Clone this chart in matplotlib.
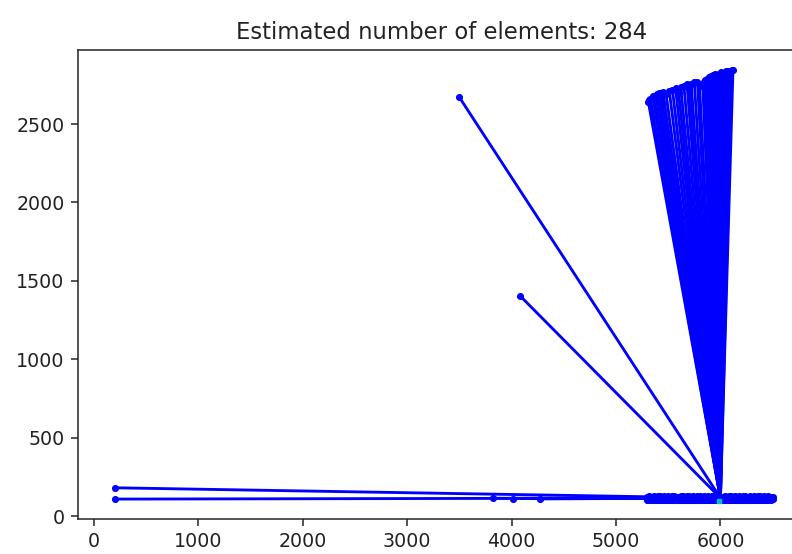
import numpy as np
import matplotlib
matplotlib.use("Agg")
import matplotlib.pyplot as plt

# centre point every segment starts from
cx, cy = 6000, 115

# isolated end points
far_x = [200, 200, 3500, 4080, 3820, 4010, 4270]
far_y = [180, 108, 2670, 1405, 113, 111, 109]

# end points of the tall fan
fan_x = [5310, 5320, 5330, 5350, 5370, 5390, 5410, 5430, 5450, 5480, 5510, 5540, 5570,
         5600, 5620, 5650, 5680, 5700, 5720, 5750, 5780, 5800, 5830, 5850, 5870,
         5890, 5910, 5930, 5950, 5970, 5990, 6010, 6030, 6050, 6070, 6090, 6110, 6120]
fan_y = [2640, 2650, 2660, 2680, 2675, 2690, 2695, 2700, 2705, 2690, 2712, 2720, 2728,
         2700, 2735, 2745, 2752, 2740, 2758, 2765, 2768, 2745, 2762, 2780, 2790,
         2800, 2805, 2812, 2818, 2815, 2822, 2830, 2826, 2835, 2838, 2840, 2842, 2845]

# end points along the bottom band (two rows)
bottom_x = [5300, 5320, 5340, 5360, 5380, 5400, 5420, 5440, 5460, 5480, 5500, 5520,
            5540, 5560, 5580, 5600, 5620, 5640, 5660, 5680, 5700, 5720, 5740, 5760,
            5780, 5800, 5820, 5840, 5860, 5880, 5900, 5920, 5940, 5960, 5980, 6020,
            6040, 6060, 6080, 6100, 6120, 6140, 6160, 6180, 6200, 6220, 6240, 6260,
            6280, 6300, 6320, 6340, 6360, 6380, 6400, 6420, 6440, 6460, 6480, 6500]
bottom_y_low = [104, 102, 105, 101, 103, 104, 100, 102, 105, 103, 101, 104,
                102, 100, 103, 105, 101, 104, 102, 103, 100, 105, 102, 104,
                101, 103, 105, 102, 100, 104, 103, 101, 105, 102, 104, 103,
                100, 102, 105, 101, 104, 103, 102, 100, 105, 103, 101, 104,
                102, 105, 100, 103, 104, 101, 102, 105, 103, 100, 104, 108]
bottom_y_high = [122, 126, 124, 127, 123, 125, 128, 122, 126, 124, 127, 123,
                 125, 128, 124, 122, 126, 127, 123, 125, 128, 124, 126, 122,
                 127, 125, 123, 128, 124, 126, 122, 127, 125, 123, 128, 124,
                 126, 122, 127, 125, 123, 128, 124, 126, 122, 127, 125, 123,
                 128, 124, 126, 122, 127, 125, 123, 128, 124, 126, 122, 120]

title = "Estimated number of elements: 284"

s = 1.367  # scale for line widths / fonts
plt.rcParams['font.family'] = 'DejaVu Sans'
plt.rcParams['axes.linewidth'] = 0.8 * s

fig = plt.figure(figsize=(7.92, 5.54), dpi=100)
ax = fig.add_axes([78 / 792, 35 / 554, 727 / 792, 469 / 554])

xs = far_x + fan_x + bottom_x + bottom_x
ys = far_y + fan_y + bottom_y_low + bottom_y_high
for x, y in zip(xs, ys):
    ax.plot([cx, x], [cy, y], 'b.-', lw=1.5 * s, ms=6 * s)

# centre marker
ax.plot([5990], [97], marker='s', color='c', ms=3, zorder=5)

ax.set_xlim(-153, 6810)
ax.set_ylim(-19, 2972)
ax.set_xticks([0, 1000, 2000, 3000, 4000, 5000, 6000])
ax.set_yticks([0, 500, 1000, 1500, 2000, 2500])
ax.tick_params(labelsize=10 * s, length=3.5 * s, width=0.8 * s, pad=3.5 * s,
               colors='#222222')
for sp in ax.spines.values():
    sp.set_color('#222222')
ax.set_title(title, fontsize=12 * s, pad=6 * s, color='#222222')

fig.savefig("out.png", dpi=100)
